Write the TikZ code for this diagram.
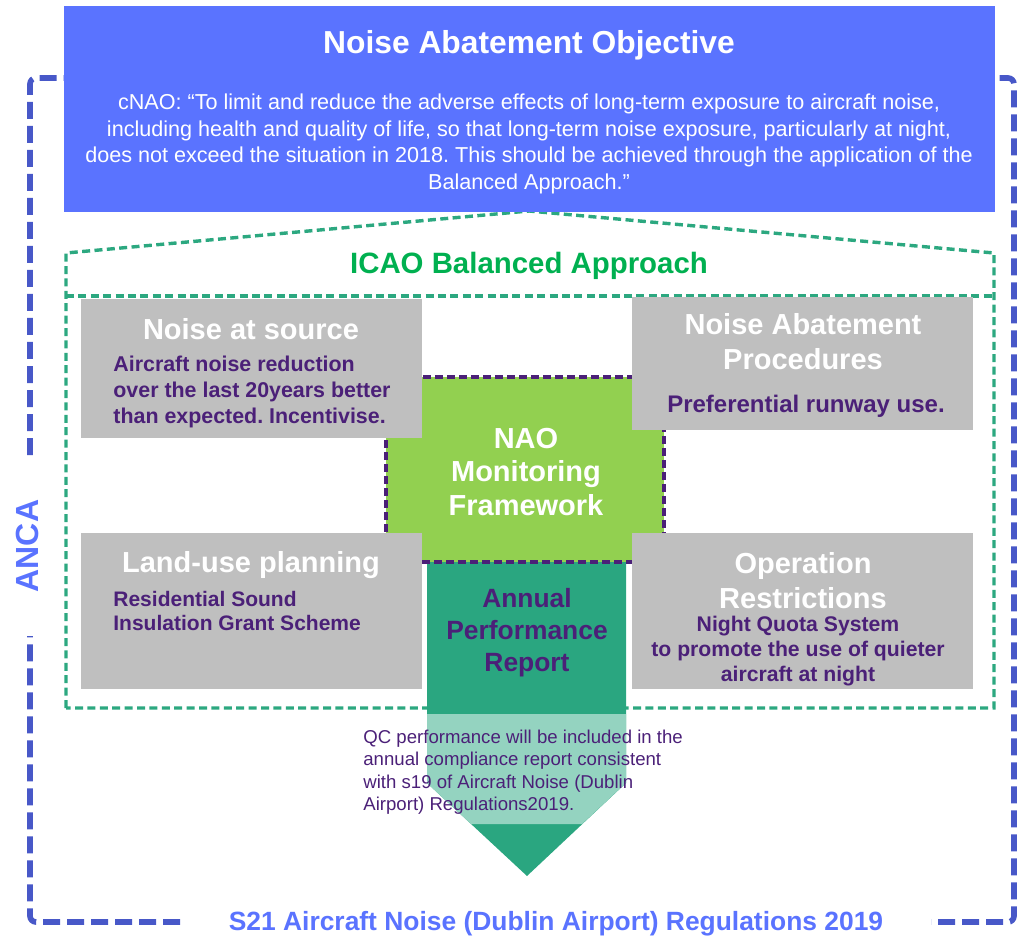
\documentclass[tikz,border=0pt]{standalone}
\usepackage{fontspec}
\setmainfont{Liberation Sans}
\usepackage{tikz}
\usetikzlibrary{calc}
\frenchspacing
\definecolor{anca}{RGB}{72,88,200}
\definecolor{ziel}{RGB}{90,115,255}
\definecolor{icao}{RGB}{44,168,128}
\definecolor{icaotext}{RGB}{0,176,80}
\definecolor{grau}{RGB}{191,191,191}
\definecolor{nao}{RGB}{146,208,80}
\definecolor{lila}{RGB}{75,32,120}
\definecolor{bericht}{RGB}{42,166,128}
\colorlet{bericht-heller}{bericht!50}
\newcommand{\schrift}[2]{\fontsize{#1}{#2}\selectfont}
\newcommand{\kasten}[4]{
    % #1 = name
    % #2 = mitte
    % #3 = breite
    % #4 = hoehe
    \node[fill=grau, inner sep=0pt, minimum width=#3, minimum height=#4] (#1) at (#2) {};
}

\begin{document}
\begin{tikzpicture}[x=0.5pt, y=-0.5pt,
    titel/.style={text=white, font={\schrift{14.5}{17.5}\bfseries}, align=center, inner sep=0pt},
    inhalt/.style={text=lila, font={\schrift{10.7}{13}\bfseries}, inner sep=0pt},
    gestrichelt/.style={draw=icao, line width=1.7pt, dash pattern=on 4pt off 2.2pt}]

    \useasboundingbox (0,0) rectangle (1023,936);

    % \draw[help lines] (0,0) grid[step=50] (1023,936);

    \draw[anca, line width=2.8pt, dash pattern=on 8.5pt off 3.5pt, rounded corners=3pt] (30,455) -- (30,78) -- (1014,78) -- (1014,922) -- (931,922);

    \draw[anca, line width=2.8pt, dash pattern=on 8.5pt off 3.5pt, rounded corners=3pt] (180,922) -- (30,922) -- (30,636);

    \draw[gestrichelt] (66,708) -- (66,253) -- (529,211) -- (994,253) -- (994,708) -- cycle;

    \draw[gestrichelt] (66,296) -- (994,296);

    \node[fill=ziel, inner sep=0pt, minimum width=465.5pt, minimum height=103pt] (ziel) at (529.5,109) {};

    %
    %
    %

    \fill[bericht] (427,562) -- (626,562) -- (626,783) -- (527,876) -- (427,783) -- cycle;

    \fill[bericht-heller] (427,714) -- (626,714) -- (626,783) -- (582,824) -- (471,824) -- (427,783) -- cycle;

    \node[fill=nao, draw=lila, line width=1.8pt, dash pattern=on 4pt off 2pt, inner sep=0pt, minimum width=139pt, minimum height=92.5pt] (nao) at (525,469.5) {};

    \kasten{quelle}{251.5,368.5}{170.5pt}{69.5pt}

    \kasten{verfahren}{802.5,363.5}{170.5pt}{66.5pt}

    \kasten{planung}{251.5,611}{170.5pt}{78pt}

    \kasten{betrieb}{802.5,611}{170.5pt}{78pt}

    %
    %
    %

    \node[titel, font={\schrift{15.9}{19}\bfseries}] (ziel-titel) at (529,45) {Noise Abatement Objective};

    \node[text=white, font={\schrift{10.8}{13.3}}, align=center, inner sep=0pt] (ziel-text) at (529,144) {cNAO: “To limit and reduce the adverse effects of long-term exposure to aircraft noise,\\ including health and quality of life, so that long-term noise exposure, particularly at night,\\ does not exceed the situation in 2018. This should be achieved through the application of the\\ Balanced Approach.”};

    \node[text=icaotext, font={\schrift{14.7}{17}\bfseries}, inner sep=0pt] (icao-titel) at (529,266) {ICAO Balanced Approach};

    \node[titel] (quelle-titel) at (251,329) {Noise at source};

    \node[inhalt, anchor=west, align=left] (quelle-text) at (113,392) {Aircraft noise reduction\\ over the last 20years better\\ than expected. Incentivise.};

    \node[titel] (verfahren-titel) at (803,342) {Noise Abatement\\ Procedures};

    \node[inhalt, font={\schrift{12}{14}\bfseries}] (verfahren-text) at (806,406) {Preferential runway use.};

    \node[titel] (planung-titel) at (251,565) {Land-use planning};

    \node[inhalt, anchor=west, align=left, font={\schrift{10.5}{12}\bfseries}] (planung-text) at (113,611) {Residential Sound\\ Insulation Grant Scheme};

    \node[titel] (betrieb-titel) at (803,581) {Operation\\ Restrictions};

    \node[inhalt, align=center, font={\schrift{10.6}{12.5}\bfseries}] (betrieb-text) at (798,651) {Night Quota System\\ to promote the use of quieter\\ aircraft at night};

    \node[titel, font={\schrift{14.5}{16.8}\bfseries}] (nao-titel) at (526,472) {NAO\\ Monitoring\\ Framework};

    \node[titel, text=lila, font={\schrift{13.2}{16}\bfseries}] (bericht-titel) at (527,633) {Annual\\ Performance\\ Report};

    \node[text=lila, font={\schrift{9.3}{11.2}}, anchor=west, align=left, inner sep=0pt] (bericht-text) at (363,772) {QC performance will be included in the\\ annual compliance report consistent\\ with s19 of Aircraft Noise (Dublin\\ Airport) Regulations2019.};

    \node[text=ziel, font={\schrift{13.2}{15}\bfseries}, inner sep=0pt] (gesetz) at (556,924) {S21 Aircraft Noise (Dublin Airport) Regulations 2019};

    \node[text=ziel, font={\schrift{16}{18}\bfseries}, inner sep=0pt, rotate=90] (anca-text) at (27,546) {ANCA};

\end{tikzpicture}
\end{document}
